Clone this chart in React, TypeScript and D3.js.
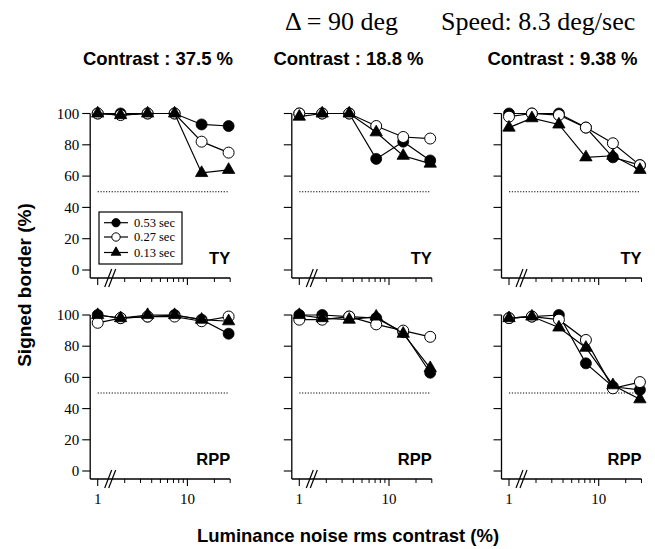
import React from "react";
import * as d3 from "d3";

// noise rms contrast (%) — first point is the no-noise condition plotted at 1
const noise = [1, 1.8, 3.6, 7.2, 14.4, 28.8];
const contrasts = ["37.5", "18.8", "9.38"];
const durations = ["0.53 sec", "0.27 sec", "0.13 sec"];
const subjects = ["TY", "RPP"];
const yTicks = [0, 20, 40, 60, 80, 100];

// signed border (%) per panel: [0.53 sec, 0.27 sec, 0.13 sec]
const ty375 = [
  [100, 100, 100, 100, 93, 92],
  [100, 99, 100, 100, 82, 75],
  [100, 99, 100, 100, 62, 64],
];
const ty188 = [
  [100, 100, 100, 71, 82, 70],
  [100, 100, 100, 92, 85, 84],
  [98, 100, 100, 88, 73, 68],
];
const ty938 = [
  [100, 100, 100, 91, 72, 67],
  [98, 100, 99, 91, 81, 67],
  [91, 97, 93, 72, 73, 64],
];
const rpp375 = [
  [100, 98, 99, 100, 97, 88],
  [95, 98, 99, 99, 96, 99],
  [100, 98, 100, 100, 97, 96],
];
const rpp188 = [
  [100, 100, 99, 98, 89, 63],
  [97, 97, 99, 94, 90, 86],
  [100, 98, 97, 99, 88, 66],
];
const rpp938 = [
  [98, 99, 100, 69, 54, 52],
  [98, 99, 97, 84, 53, 57],
  [98, 99, 92, 79, 55, 46],
];

const panels = [
  [ty375, ty188, ty938],
  [rpp375, rpp188, rpp938],
];

const W = 655;
const H = 549;
const colX = [97.7, 299.3, 509];
const rowY = [
  { bottom: 270, top: 113.5 },
  { bottom: 471, top: 315 },
];
const serif = "'Liberation Serif', 'Times New Roman', serif";
const sans = "'Liberation Sans', Arial, Helvetica, sans-serif";

const circlePath = d3.symbol(d3.symbolCircle, 95)()!;
const trianglePath = d3.symbol(d3.symbolTriangle, 66)()!;
const legendCircle = d3.symbol(d3.symbolCircle, 55)()!;
const legendTriangle = d3.symbol(d3.symbolTriangle, 42)()!;

const markerProps = (i: number) =>
  i === 1
    ? { fill: "#fff", stroke: "#000", strokeWidth: 1 }
    : { fill: "#000", stroke: "#000", strokeWidth: 0.8 };

function Panel({ row, col }: { row: number; col: number }) {
  const x = d3.scaleLog().domain([1, 30]).range([colX[col], colX[col] + 132.5]);
  const y = d3.scaleLinear().domain([0, 100]).range([rowY[row].bottom, rowY[row].top]);
  const axisY = y(0) + 8;
  const axisX = x(1) - 7.5;
  const line = d3
    .line<number>()
    .x((_, i) => x(noise[i]))
    .y((d) => y(d));
  const data = panels[row][col];
  const majors = [1, 10];
  const minors = [2, 3, 4, 5, 6, 7, 8, 9, 20, 30];
  const bx = x(1) + 12.5;

  return (
    <g>
      {/* axes */}
      <line x1={axisX} x2={axisX} y1={y(100)} y2={axisY} stroke="#000" strokeWidth={1.3} />
      <line x1={axisX} x2={x(30)} y1={axisY} y2={axisY} stroke="#000" strokeWidth={1.3} />
      {yTicks.map((t) => (
        <g key={t}>
          <line x1={axisX - 8} x2={axisX} y1={y(t)} y2={y(t)} stroke="#000" strokeWidth={1.1} />
          {col === 0 && (
            <text
              x={axisX - 11}
              y={y(t)}
              dy="0.34em"
              textAnchor="end"
              fontFamily={serif}
              fontSize={15}
            >
              {t}
            </text>
          )}
        </g>
      ))}
      {majors.map((t) => (
        <line key={t} x1={x(t)} x2={x(t)} y1={axisY} y2={axisY + 7} stroke="#000" strokeWidth={1.1} />
      ))}
      {minors.map((t) => (
        <line key={t} x1={x(t)} x2={x(t)} y1={axisY} y2={axisY + 4} stroke="#000" strokeWidth={1} />
      ))}
      {row === 1 &&
        majors.map((t) => (
          <text key={t} x={x(t)} y={axisY + 25} textAnchor="middle" fontFamily={serif} fontSize={15}>
            {t}
          </text>
        ))}
      {/* axis break */}
      {[-2, 2].map((o) => (
        <line
          key={o}
          x1={bx + o - 3.5}
          y1={axisY + 9}
          x2={bx + o + 3.5}
          y2={axisY - 9}
          stroke="#000"
          strokeWidth={1.2}
        />
      ))}
      {/* chance level */}
      <line
        x1={x(1)}
        x2={x(28.5)}
        y1={y(50)}
        y2={y(50)}
        stroke="#000"
        strokeWidth={1}
        strokeDasharray="1.2,1.6"
      />
      {data.map((vals, i) => (
        <g key={i}>
          <path d={line(vals)!} fill="none" stroke="#000" strokeWidth={1.2} />
          {vals.map((v, j) => (
            <path
              key={j}
              d={i === 2 ? trianglePath : circlePath}
              transform={`translate(${x(noise[j])},${y(v)})`}
              {...markerProps(i)}
            />
          ))}
        </g>
      ))}
      <text
        x={x(30)}
        y={rowY[row].bottom - 6}
        textAnchor="end"
        fontFamily={sans}
        fontWeight="bold"
        fontSize={16.5}
      >
        {subjects[row]}
      </text>
    </g>
  );
}

function Legend() {
  const lx = 99;
  const ly = 212;
  const rows = [222.7, 237, 252.5];
  return (
    <g>
      <rect x={lx} y={ly} width={83} height={52} fill="#fff" stroke="#000" strokeWidth={1.2} />
      {durations.map((d, i) => (
        <g key={d}>
          <line x1={104} x2={128} y1={rows[i]} y2={rows[i]} stroke="#000" strokeWidth={1.2} />
          <path
            d={i === 2 ? legendTriangle : legendCircle}
            transform={`translate(116,${rows[i]})`}
            {...markerProps(i)}
          />
          <text x={134} y={rows[i]} dy="0.33em" fontFamily={serif} fontSize={12.5}>
            {d}
          </text>
        </g>
      ))}
    </g>
  );
}

export default function App() {
  return (
    <div style={{ position: "absolute", left: 0, top: 0 }}>
      <svg width={W} height={H} style={{ display: "block", background: "#fff" }}>
        <text x={285} y={30} fontFamily={serif} fontSize={26}>
          Δ = 90 deg
        </text>
        <text x={441} y={30} fontFamily={serif} fontSize={26}>
          Speed: 8.3 deg/sec
        </text>
        {contrasts.map((c, i) => (
          <text
            key={c}
            x={[158, 348.5, 562.5][i]}
            y={65}
            textAnchor="middle"
            fontFamily={sans}
            fontWeight="bold"
            fontSize={18.5}
          >
            {`Contrast : ${c} %`}
          </text>
        ))}
        {[0, 1].map((r) => [0, 1, 2].map((c) => <Panel key={`${r}-${c}`} row={r} col={c} />))}
        <Legend />
        <text
          transform="translate(31,285) rotate(-90)"
          textAnchor="middle"
          fontFamily={sans}
          fontWeight="bold"
          fontSize={19}
        >
          Signed border (%)
        </text>
        <text x={348} y={542} textAnchor="middle" fontFamily={sans} fontWeight="bold" fontSize={18.5}>
          Luminance noise rms contrast (%)
        </text>
      </svg>
    </div>
  );
}
